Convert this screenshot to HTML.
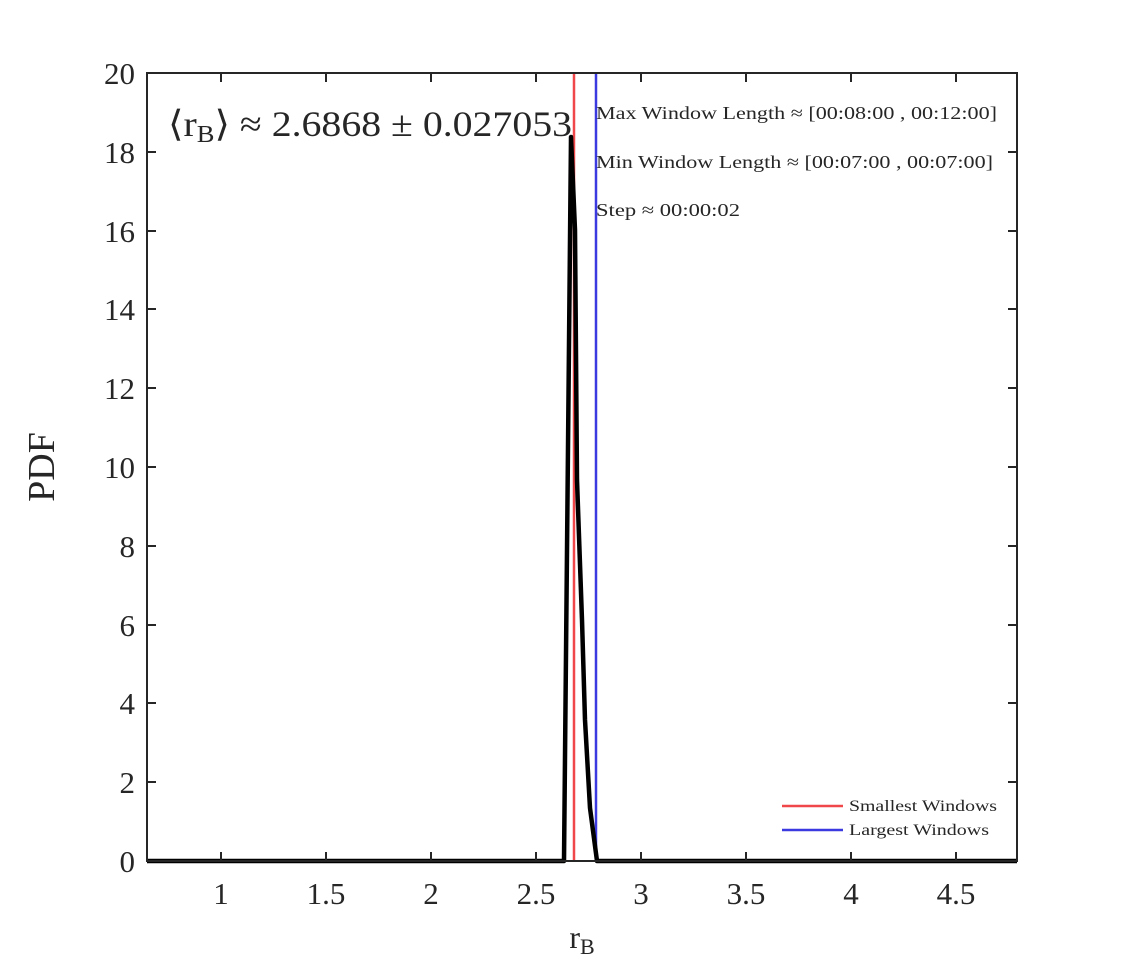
<!DOCTYPE html>
<html><head><style>
body{margin:0;background:#fff;}
svg text{font-family:"Liberation Serif",serif;fill:#262626;}
</style></head><body>
<svg width="1125" height="969" viewBox="0 0 1125 969" xmlns="http://www.w3.org/2000/svg">
<rect width="1125" height="969" fill="#fff"/>
<line x1="574" y1="73" x2="574" y2="861" stroke="#f0484a" stroke-width="2.5"/>
<line x1="596" y1="73" x2="596" y2="861" stroke="#3a3ae0" stroke-width="2.5"/>
<polyline points="147,861 564,861 571,137 575,230 577,480 582,620 585,720 590,808 597,861 1017,861" fill="none" stroke="#000" stroke-width="4.5" stroke-linejoin="round"/>
<rect x="147" y="73" width="870" height="788" fill="none" stroke="#262626" stroke-width="2"/>
<g stroke="#262626" stroke-width="2">
<line x1="221" y1="861" x2="221" y2="852"/><line x1="326" y1="861" x2="326" y2="852"/><line x1="431" y1="861" x2="431" y2="852"/><line x1="536" y1="861" x2="536" y2="852"/><line x1="641" y1="861" x2="641" y2="852"/><line x1="746" y1="861" x2="746" y2="852"/><line x1="851" y1="861" x2="851" y2="852"/><line x1="956" y1="861" x2="956" y2="852"/>
<line x1="221" y1="73" x2="221" y2="82"/><line x1="326" y1="73" x2="326" y2="82"/><line x1="431" y1="73" x2="431" y2="82"/><line x1="536" y1="73" x2="536" y2="82"/><line x1="641" y1="73" x2="641" y2="82"/><line x1="746" y1="73" x2="746" y2="82"/><line x1="851" y1="73" x2="851" y2="82"/><line x1="956" y1="73" x2="956" y2="82"/>
<line x1="147" y1="782" x2="156" y2="782"/><line x1="147" y1="703" x2="156" y2="703"/><line x1="147" y1="625" x2="156" y2="625"/><line x1="147" y1="546" x2="156" y2="546"/><line x1="147" y1="467" x2="156" y2="467"/><line x1="147" y1="388" x2="156" y2="388"/><line x1="147" y1="309" x2="156" y2="309"/><line x1="147" y1="231" x2="156" y2="231"/><line x1="147" y1="152" x2="156" y2="152"/>
<line x1="1017" y1="782" x2="1008" y2="782"/><line x1="1017" y1="703" x2="1008" y2="703"/><line x1="1017" y1="625" x2="1008" y2="625"/><line x1="1017" y1="546" x2="1008" y2="546"/><line x1="1017" y1="467" x2="1008" y2="467"/><line x1="1017" y1="388" x2="1008" y2="388"/><line x1="1017" y1="309" x2="1008" y2="309"/><line x1="1017" y1="231" x2="1008" y2="231"/><line x1="1017" y1="152" x2="1008" y2="152"/>
</g>
<g font-size="31" text-anchor="middle">
<text x="221" y="904">1</text><text x="326" y="904">1.5</text><text x="431" y="904">2</text><text x="536" y="904">2.5</text><text x="641" y="904">3</text><text x="746" y="904">3.5</text><text x="851" y="904">4</text><text x="956" y="904">4.5</text>
</g>
<g font-size="31" text-anchor="end">
<text x="135" y="872">0</text><text x="135" y="793">2</text><text x="135" y="714">4</text><text x="135" y="636">6</text><text x="135" y="557">8</text><text x="135" y="478">10</text><text x="135" y="399">12</text><text x="135" y="320">14</text><text x="135" y="242">16</text><text x="135" y="163">18</text><text x="135" y="84">20</text>
</g>
<text x="582" y="948" font-size="32" text-anchor="middle">r<tspan font-size="22" dy="6">B</tspan></text>
<text transform="translate(54,467) rotate(-90)" font-size="38" text-anchor="middle">PDF</text>
<text x="168" y="136" font-size="36" fill="#000" textLength="404" lengthAdjust="spacingAndGlyphs">⟨r<tspan font-size="24" dy="6">B</tspan><tspan dy="-6">⟩ ≈ 2.6868 ± 0.027053</tspan></text>
<g font-size="18" fill="#000">
<text x="596" y="119" textLength="401" lengthAdjust="spacingAndGlyphs">Max Window Length ≈ [00:08:00 , 00:12:00]</text>
<text x="596" y="168" textLength="397" lengthAdjust="spacingAndGlyphs">Min Window Length ≈ [00:07:00 , 00:07:00]</text>
<text x="596" y="216" textLength="144" lengthAdjust="spacingAndGlyphs">Step ≈ 00:00:02</text>
</g>
<line x1="782" y1="806" x2="843" y2="806" stroke="#f0484a" stroke-width="2.5"/>
<line x1="782" y1="830" x2="843" y2="830" stroke="#3a3ae0" stroke-width="2.5"/>
<g font-size="16" fill="#000">
<text x="849" y="811" textLength="148" lengthAdjust="spacingAndGlyphs">Smallest Windows</text>
<text x="849" y="835" textLength="140" lengthAdjust="spacingAndGlyphs">Largest Windows</text>
</g>
</svg>
</body></html>
